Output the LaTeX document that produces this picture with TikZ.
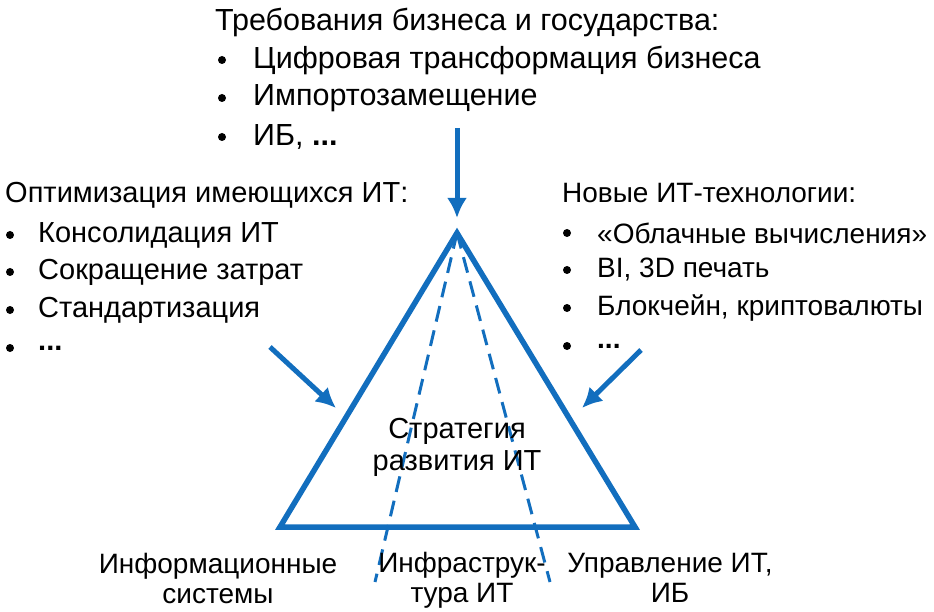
\documentclass[tikz,border=0pt]{standalone}
\usepackage{fontspec}
\setmainfont{Liberation Sans}
\definecolor{bl}{RGB}{18,110,190}
\usetikzlibrary{arrows.meta}
\begin{document}
\begin{tikzpicture}[x=1pt,y=-1pt,
  txt/.style={anchor=west,inner sep=0,font=\fontsize{29}{34}\selectfont},
  txtT/.style={txt,font=\fontsize{30.5}{34}\selectfont},
  txtR/.style={txt,font=\fontsize{28}{34}\selectfont},
  bul/.style={circle,fill=black,inner sep=0,minimum size=8pt},
  arr/.style={bl,line width=5pt,-{Latex[length=20pt,width=20pt]}}]
\useasboundingbox (0,0) rectangle (934,612);
% top
\node[txtT] (t0) at (215,22) {Требования бизнеса и государства:};
\foreach \y/\s [count=\i] in {60/Цифровая трансформация бизнеса,98/Импортозамещение,137/{ИБ, \textbf{...}}}{
  \node[bul] (tb\i) at (222,\y) {};
  \node[txtT] (tt\i) at (253,\y) {\s};}
% left
\node[txt] (l0) at (5,195) {Оптимизация имеющихся ИТ:};
\foreach \y/\s [count=\i] in {235/Консолидация ИТ,272/Сокращение затрат,310/Стандартизация,348/\textbf{...}}{
  \node[bul] (lb\i) at (10,\y) {};
  \node[txt] (lt\i) at (38,\y) {\s};}
% right
\node[txtR] (r0) at (562,193) {Новые ИТ-технологии:};
\foreach \y/\s [count=\i] in {233/«Облачные вычисления»,270/{BI, 3D печать},308/{Блокчейн, криптовалюты},346/\textbf{...}}{
  \node[bul] (rb\i) at (567,\y) {};
  \node[txtR] (rt\i) at (597,\y) {\s};}
% triangle
\coordinate (A) at (457,233);
\coordinate (B) at (280,527);
\coordinate (C) at (635,527);
\coordinate (D1) at (375,582);
\coordinate (D2) at (550,582);
\draw[bl,line width=5.5pt,line join=miter] (A)--(B)--(C)--cycle;
\draw[bl,line width=3pt,dash pattern=on 16pt off 9pt] (A)--(D1) (A)--(D2);
\node[align=center,inner sep=0,font=\fontsize{29}{32}\selectfont] (s) at (457,447) {Стратегия\\развития ИТ};
% arrows
\coordinate (a1) at (457,128); \coordinate (a1e) at (457,218);
\draw[arr] (a1)--(a1e);
\coordinate (a2) at (270,347); \coordinate (a2e) at (336,408);
\draw[arr] (a2)--(a2e);
\coordinate (a3) at (641,350); \coordinate (a3e) at (582,408);
\draw[arr] (a3)--(a3e);
% bottom labels
\node[align=center,inner sep=0,font=\fontsize{28}{30}\selectfont] (b1) at (218,578) {Информационные\\системы};
\node[align=center,inner sep=0,font=\fontsize{28}{30}\selectfont] (b2) at (462,580) {Инфраструк-\\тура ИТ};
\node[align=center,inner sep=0,font=\fontsize{28}{30}\selectfont] (b3) at (670,578) {Управление ИТ,\\ИБ};
\end{tikzpicture}
\end{document}
